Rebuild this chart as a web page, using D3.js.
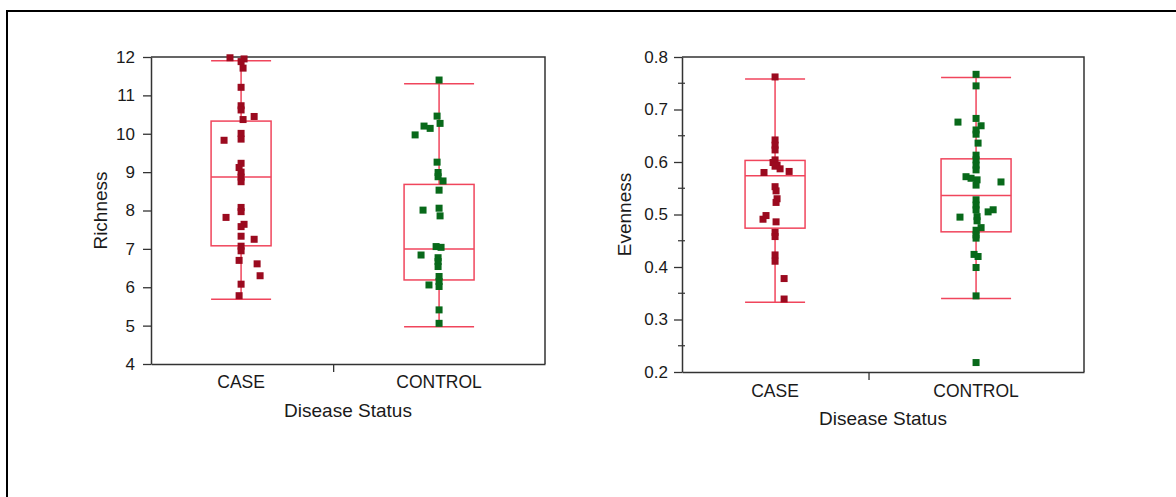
<!DOCTYPE html>
<html>
<head>
<meta charset="utf-8">
<script src="https://cdn.jsdelivr.net/npm/d3@7"></script>
<style>
  body { margin: 0; background: #fff; }
  svg { display: block; font-family: "Liberation Sans", Arial, sans-serif; }
</style>
</head>
<body>
<div id="root"></div>
<script>
'use strict';

var groups = ['CASE', 'CONTROL'];

// box stats, one entry per group: whisker low, Q1, median, Q3, whisker high
var richLow = [5.69, 4.97];
var richQ1 = [7.08, 6.19];
var richMed = [8.87, 7.0];
var richQ3 = [10.33, 8.68];
var richHigh = [11.9, 11.3];

var evenLow = [0.333, 0.340];
var evenQ1 = [0.474, 0.467];
var evenMed = [0.574, 0.536];
var evenQ3 = [0.603, 0.606];
var evenHigh = [0.758, 0.761];

// raw points (value + horizontal jitter in category units)
var caseRich = [11.98, 11.95, 11.88, 11.71, 11.21, 10.73, 10.62, 10.45, 10.37, 10.01, 9.86, 9.83,
  9.23, 9.12, 9.0, 8.87, 8.75, 8.08, 7.97, 7.82, 7.64, 7.58, 7.33, 7.25, 7.07, 6.95, 6.70, 6.61,
  6.30, 6.08, 5.78];
var caseRichJit = [-0.056, 0.015, 0, 0.01, 0, 0, 0, 0.066, 0.01, 0, 0, -0.086, 0, -0.01, 0, 0, 0,
  0, 0, -0.076, 0.015, 0, 0, 0.066, 0, 0, -0.01, 0.081, 0.096, 0, -0.01];

var ctrlRich = [11.40, 10.46, 10.27, 10.20, 10.14, 9.97, 9.26, 8.99, 8.88, 8.77, 8.53, 8.06, 8.01,
  7.86, 7.06, 7.04, 6.84, 6.77, 6.67, 6.54, 6.28, 6.15, 6.06, 6.02, 5.41, 5.06];
var ctrlRichJit = [0, -0.01, 0.005, -0.076, -0.045, -0.121, -0.01, -0.005, -0.005, 0.02, 0, 0,
  -0.081, 0.005, -0.015, 0.01, -0.091, -0.005, -0.005, -0.005, 0, 0, -0.051, 0, 0, 0];

var caseEven = [0.762, 0.642, 0.632, 0.623, 0.604, 0.599, 0.594, 0.592, 0.587, 0.582, 0.580, 0.553,
  0.545, 0.530, 0.523, 0.498, 0.491, 0.486, 0.466, 0.458, 0.423, 0.411, 0.378, 0.339];
var caseEvenJit = [0, 0, 0, 0, 0, -0.01, 0.01, 0, 0.025, 0.07, -0.055, 0, 0.005, 0.01, 0.005,
  -0.045, -0.06, 0.005, 0, 0, 0, 0, 0.045, 0.045];

var ctrlEven = [0.767, 0.745, 0.683, 0.676, 0.669, 0.661, 0.653, 0.636, 0.613, 0.604, 0.594, 0.585,
  0.572, 0.569, 0.566, 0.562, 0.556, 0.528, 0.518, 0.509, 0.509, 0.505, 0.495, 0.496, 0.488, 0.475,
  0.470, 0.461, 0.455, 0.424, 0.420, 0.399, 0.345, 0.218];
var ctrlEvenJit = [0, 0, 0, -0.09, 0.025, 0, 0, 0.01, 0, 0, 0, 0, -0.05, -0.025, 0.005, 0.124, 0, 0,
  0, 0, 0.085, 0.06, -0.08, 0.005, 0.005, 0.025, 0, 0, 0, -0.01, 0.01, 0, 0, 0];

var richTicks = [4, 5, 6, 7, 8, 9, 10, 11, 12];
var evenTicks = [0.2, 0.3, 0.4, 0.5, 0.6, 0.7, 0.8];
var evenMinor = [0.25, 0.35, 0.45, 0.55, 0.65, 0.75];

var boxColor = '#f0455c';
var dotColors = ['#9b0a1f', '#08691a'];
var axisColor = '#333';
var textColor = '#1a1a1a';
var boxHalf = [30, 35];
var dot = 7;

var W = 1176, H = 497;

var svg = d3.select('#root')
  .append('svg')
  .attr('width', W)
  .attr('height', H);

// page frame (top + left edge)
svg.append('line').attr('x1', 6).attr('x2', W).attr('y1', 11).attr('y2', 11)
  .attr('stroke', '#000').attr('stroke-width', 2);
svg.append('line').attr('x1', 7).attr('x2', 7).attr('y1', 10).attr('y2', H)
  .attr('stroke', '#000').attr('stroke-width', 2);

function drawPanel(p) {
  var x = d3.scaleLinear().domain(p.xDomain).range([p.left, p.right]);
  var y = d3.scaleLinear().domain(p.yDomain).range([p.bottom, p.top]);

  var g = svg.append('g');

  // frame top + right
  g.append('path')
    .attr('d', `M${p.left},${p.top}H${p.right}V${p.bottom}`)
    .attr('fill', 'none')
    .attr('stroke', axisColor)
    .attr('stroke-width', 1.5);

  // minor ticks
  if (p.minor) {
    g.selectAll('.minor')
      .data(p.minor)
      .enter().append('line')
      .attr('x1', p.left - 4).attr('x2', p.left + 3)
      .attr('y1', d => y(d)).attr('y2', d => y(d))
      .attr('stroke', axisColor)
      .attr('stroke-width', 1.2);
  }

  var yAxis = g.append('g')
    .attr('transform', `translate(${p.left},0)`)
    .call(d3.axisLeft(y).tickValues(p.ticks).tickFormat(p.fmt).tickSize(8).tickSizeOuter(0).tickPadding(p.pad));
  yAxis.select('.domain').attr('stroke', axisColor).attr('stroke-width', 1.5);
  yAxis.selectAll('.tick line').attr('stroke', axisColor).attr('stroke-width', 1.3);
  yAxis.selectAll('.tick text').attr('fill', textColor).style('font-size', '17px');

  var xAxis = g.append('g')
    .attr('transform', `translate(0,${p.bottom})`)
    .call(d3.axisBottom(x).tickValues([p.midTick]).tickFormat('').tickSize(8).tickSizeOuter(0));
  xAxis.select('.domain').attr('stroke', axisColor).attr('stroke-width', 1.5);
  xAxis.selectAll('.tick line').attr('stroke', axisColor).attr('stroke-width', 1.3);

  g.selectAll('.cat')
    .data(groups)
    .enter().append('text')
    .attr('x', (d, i) => x(i + 1))
    .attr('y', p.bottom + p.labelGap)
    .attr('text-anchor', 'middle')
    .attr('fill', textColor)
    .style('font-size', '17.5px')
    .text(d => d);

  g.append('text')
    .attr('x', (p.left + p.right) / 2)
    .attr('y', p.bottom + p.titleGap)
    .attr('text-anchor', 'middle')
    .attr('fill', textColor)
    .style('font-size', '19px')
    .text('Disease Status');

  g.append('text')
    .attr('transform', `translate(${p.yTitleX},${(p.top + p.bottom) / 2}) rotate(-90)`)
    .attr('text-anchor', 'middle')
    .attr('dy', '0.35em')
    .attr('fill', textColor)
    .style('font-size', '19px')
    .text(p.yTitle);

  // boxes
  groups.forEach(function(name, i) {
    var cx = x(i + 1);
    var hw = boxHalf[i];
    var bg = g.append('g')
      .attr('fill', 'none')
      .attr('stroke', boxColor)
      .attr('stroke-width', 1.5);
    bg.append('line').attr('x1', cx).attr('x2', cx)
      .attr('y1', y(p.high[i])).attr('y2', y(p.q3[i]));
    bg.append('line').attr('x1', cx).attr('x2', cx)
      .attr('y1', y(p.q1[i])).attr('y2', y(p.low[i]));
    bg.append('line').attr('x1', cx - hw).attr('x2', cx + hw)
      .attr('y1', y(p.high[i])).attr('y2', y(p.high[i]));
    bg.append('line').attr('x1', cx - hw).attr('x2', cx + hw)
      .attr('y1', y(p.low[i])).attr('y2', y(p.low[i]));
    bg.append('rect')
      .attr('x', cx - hw).attr('width', 2 * hw)
      .attr('y', y(p.q3[i])).attr('height', y(p.q1[i]) - y(p.q3[i]));
    bg.append('line').attr('x1', cx - hw).attr('x2', cx + hw)
      .attr('y1', y(p.med[i])).attr('y2', y(p.med[i]));
  });

  // jittered points
  p.points.forEach(function(vals, i) {
    var jit = p.jitter[i];
    g.selectAll('.pt' + i)
      .data(vals)
      .enter().append('rect')
      .attr('x', (d, k) => x(i + 1 + jit[k]) - dot / 2)
      .attr('y', d => y(d) - dot / 2)
      .attr('width', dot)
      .attr('height', dot)
      .attr('fill', dotColors[i]);
  });
}

drawPanel({
  left: 151, right: 545, top: 57, bottom: 364,
  xDomain: [0.545, 2.535], yDomain: [4, 12], midTick: 1.465,
  ticks: richTicks, fmt: d3.format('d'), pad: 8,
  low: richLow, q1: richQ1, med: richMed, q3: richQ3, high: richHigh,
  points: [caseRich, ctrlRich], jitter: [caseRichJit, ctrlRichJit],
  yTitle: 'Richness', yTitleX: 100,
  labelGap: 24, titleGap: 53
});

drawPanel({
  left: 682, right: 1084, top: 57, bottom: 372,
  xDomain: [0.537, 2.537], yDomain: [0.2, 0.8], midTick: 1.465,
  ticks: evenTicks, minor: evenMinor, fmt: d3.format('.1f'), pad: 6,
  low: evenLow, q1: evenQ1, med: evenMed, q3: evenQ3, high: evenHigh,
  points: [caseEven, ctrlEven], jitter: [caseEvenJit, ctrlEvenJit],
  yTitle: 'Evenness', yTitleX: 624,
  labelGap: 25, titleGap: 53
});
</script>
</body>
</html>
